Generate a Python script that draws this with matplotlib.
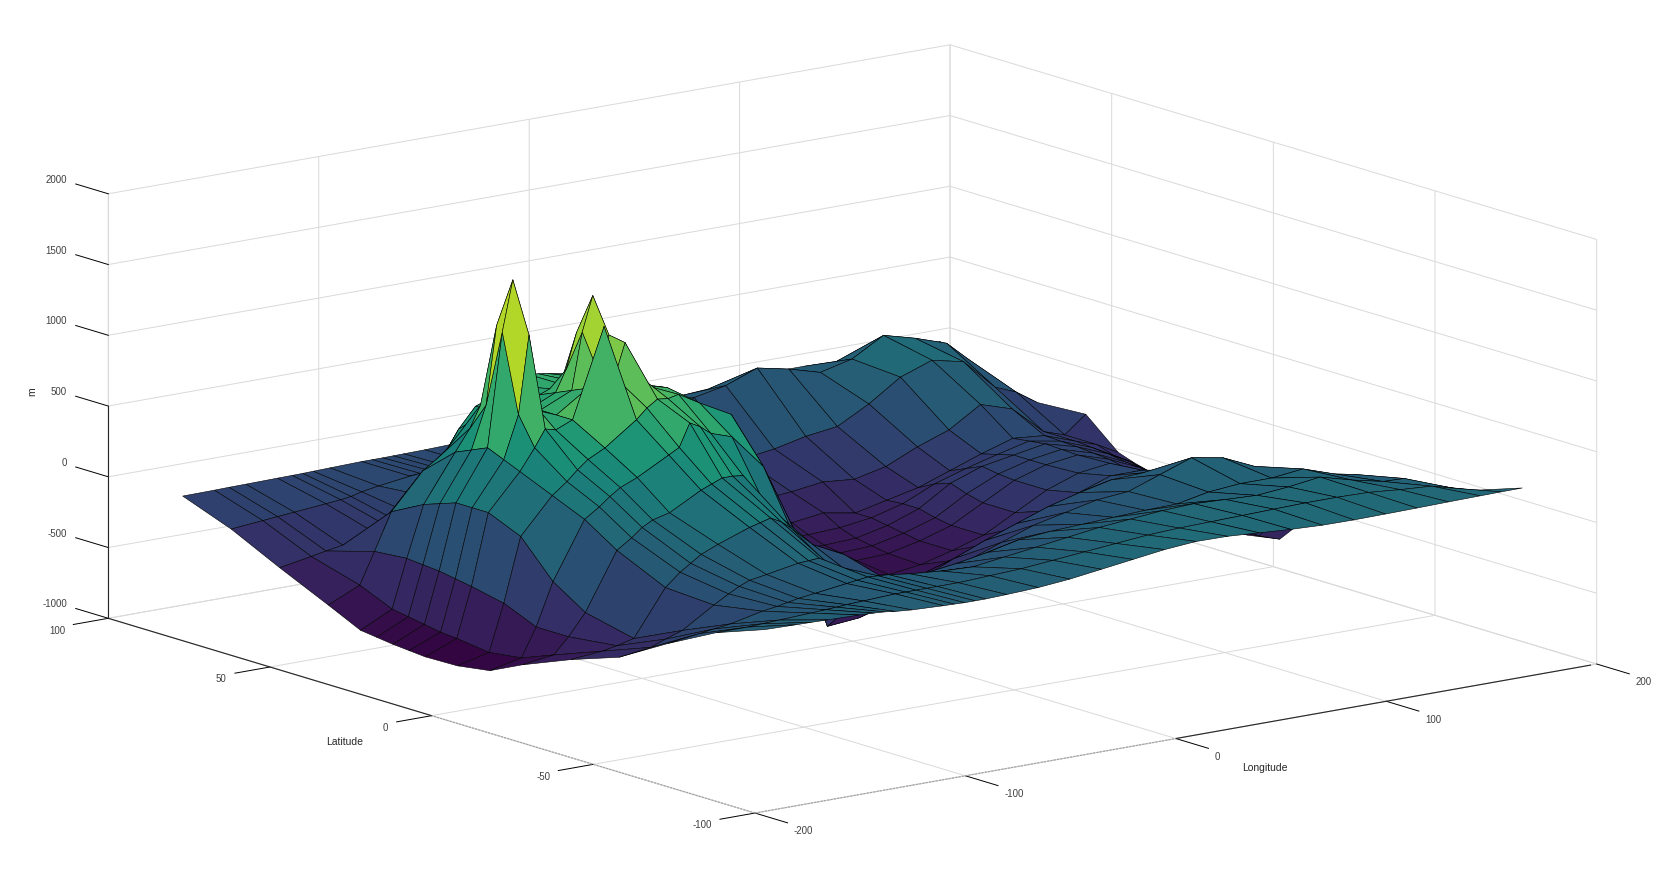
# Surface of m over longitude / latitude
import numpy as np
import matplotlib
matplotlib.use("Agg")
import matplotlib.pyplot as plt
from matplotlib.colors import ListedColormap
from mpl_toolkits.mplot3d import proj3d

plt.rcParams['font.family'] = ['Liberation Sans', 'DejaVu Sans']
plt.rcParams['axes.unicode_minus'] = False

lon = [-180, -165, -158, -150, -135, -128, -123, -118, -110, -95, -90, -85, -80, -75, -65, -50, -35, -20, -5, 10, 25, 40, 55, 70, 85, 100, 115, 130, 145, 160, 170, 180]
lat = [-90, -75, -60, -45, -30, -15, -5, 5, 15, 20, 25, 30, 35, 45, 60, 75, 90]

z_m90 = [175, 170, 168, 165, 160, 155, 150, 140, 130, 120, 118, 115, 115, 115, 120, 130, 150, 180, 210, 240, 258, 255, 240, 225, 215, 213, 215, 218, 222, 225, 227, 228]
z_m75 = [50, 50, 55, 60, 70, 75, 80, 85, 90, 100, 100, 100, 100, 100, 100, 110, 120, 140, 160, 180, 200, 210, 215, 220, 225, 230, 230, 225, 205, 190, 150, 108]
z_m60 = [-130, -100, -85, -70, -20, -5, 10, 25, 40, 70, 80, 90, 85, 80, 60, 40, 30, 60, 90, 120, 150, 170, 190, 200, 190, 180, 200, 230, 170, 120, 115, 47]
z_m45 = [-330, -300, -260, -220, -80, -20, 20, 50, 70, 110, 115, 120, 60, -40, -100, -150, -120, -90, -50, 0, 20, 30, 40, 50, 55, 100, 120, 120, 145, 70, 40, -50]
z_m30 = [-450, -430, -410, -380, -60, 30, 80, 130, 180, 260, 280, 300, 260, 200, 60, -50, -300, -420, -330, -240, -160, -80, -30, 20, 40, 120, 200, 160, 60, -100, -200, -280]
z_m15 = [-590, -560, -450, -300, 100, 170, 230, 270, 300, 420, 450, 480, 480, 470, 250, -50, -700, -680, -600, -480, -380, -290, -210, -130, -70, -20, -10, -30, -200, -500, -600, -650]
z_m05 = [-700, -650, -450, -150, 250, 320, 380, 430, 480, 600, 640, 800, 760, 700, 650, 400, -100, -650, -680, -600, -560, -500, -430, -350, -270, -180, -100, -100, -300, -500, -620, -690]
z_p05 = [-735, -680, -350, 100, 350, 430, 500, 560, 620, 780, 850, 900, 890, 907, 820, 700, 300, -300, -590, -640, -630, -600, -540, -470, -350, -230, -150, -120, -250, -400, -520, -620]
z_p15 = [-740, -650, -300, 200, 450, 600, 720, 700, 750, 1370, 1000, 1230, 1000, 900, 860, 650, 250, -200, -500, -620, -600, -590, -540, -470, -350, -230, -160, -130, -200, -300, -400, -500]
z_p20 = [-730, -640, -280, 200, 500, 800, 1350, 800, 750, 900, 1000, 1250, 900, 860, 840, 620, 230, -200, -480, -590, -580, -570, -520, -450, -320, -220, -160, -125, -190, -290, -380, -480]
z_p25 = [-720, -620, -260, 200, 550, 1350, 1705, 1300, 750, 850, 1250, 1494, 1250, 850, 830, 600, 200, -200, -450, -560, -560, -550, -500, -420, -280, -200, -160, -120, -180, -270, -350, -450]
z_p30 = [-705, -600, -250, 160, 500, 800, 1350, 800, 700, 800, 950, 1200, 900, 830, 810, 520, 150, -200, -420, -520, -520, -510, -480, -420, -320, -250, -190, -135, -175, -260, -340, -420]
z_p35 = [-690, -580, -240, 120, 450, 600, 750, 700, 650, 750, 780, 800, 810, 820, 790, 450, 100, -200, -400, -480, -470, -440, -480, -430, -380, -300, -220, -150, -170, -250, -300, -380]
z_p45 = [-580, -480, -260, 0, 250, 320, 380, 500, 640, 720, 730, 800, 790, 778, 750, 650, 100, -200, -320, -380, -380, -360, -330, -350, -300, -200, -120, 20, -50, -250, -300, -180]
z_p60 = [-420, -380, -360, -340, -290, -270, -250, -200, -100, 100, 115, 130, 125, 120, 110, 60, -20, -120, -200, -250, -250, -230, -200, -150, -120, 0, 150, 230, 180, -40, -100, -200]
z_p75 = [-250, -230, -220, -210, -190, -180, -170, -150, -130, -100, -95, -90, -90, -90, -90, -80, -80, -90, -100, -100, -90, 100, 145, 230, 183, 120, 175, 303, 243, 168, 32, -149]
z_p90 = [-120, -118, -116, -115, -112, -111, -110, -108, -105, -100, -100, -100, -99, -98, -96, -90, -80, -70, -60, -50, -45, -40, -35, -20, 0, 20, 20, 10, 0, 0, 10, 25]

x_ticks = [-200, -100, 0, 100, 200]
y_ticks = [-100, -50, 0, 50, 100]
z_ticks = [-1000, -500, 0, 500, 1000, 1500, 2000]

Z = np.array([z_m90, z_m75, z_m60, z_m45, z_m30, z_m15, z_m05, z_p05, z_p15, z_p20, z_p25, z_p30, z_p35, z_p45, z_p60, z_p75, z_p90], dtype=float)
X, Y = np.meshgrid(lon, lat)

fig = plt.figure(figsize=(16.71, 8.69), dpi=100)
ax = fig.add_axes([0, 0, 1, 1], projection='3d', proj_type='ortho')
ax.view_init(elev=13.35, azim=-127.48)
ax.set_box_aspect((1060.7, 1062.8, 436.3))
ax.set_xlim(-200, 200)
ax.set_ylim(-100, 100)
ax.set_zlim(-1000, 2000)

# black mesh in the original is so dense it darkens the low parts
cols = plt.cm.viridis(np.linspace(0, 1, 256))
cols[:, :3] *= np.linspace(0.72, 1, 256)[:, None]
ax.plot_surface(X, Y, Z, rstride=1, cstride=1, cmap=ListedColormap(cols), vmin=-750, vmax=1550,
                edgecolor='black', linewidth=0.4, shade=False, antialiased=True)

ax.set_xticks(x_ticks)
ax.set_yticks(y_ticks)
ax.set_zticks(z_ticks)
ax.tick_params(labelbottom=False, labelleft=False, labelsize=0)
ax.set_xticklabels([])
ax.set_yticklabels([])
ax.set_zticklabels([])
ax.zaxis._get_tickdir = lambda pos: 1
for axis, out in ((ax.xaxis, -0.63), (ax.yaxis, -0.52), (ax.zaxis, 0.63)):
    axis.set_pane_color((1, 1, 1, 0))
    axis.pane.set_edgecolor('#d9d9d9')
    axis._axinfo['grid'].update(color='#d9d9d9', linewidth=0.7)
    axis._axinfo['tick'].update(outward_factor=out, inward_factor=0, linewidth={True: 0.7, False: 0.7})
    axis.line.set_color('#d9d9d9')
    axis.line.set_linewidth(0.8)

# axis lines: dark only on part of each edge
ax.plot([0, 200], [-100, -100], [-1000, -1000], color='#262626', lw=0.8)
ax.plot([-200, 0], [-100, -100], [-1000, -1000], color='#a0a0a0', lw=0.8, ls=(0, (2, 1)))
ax.plot([-200, -200], [0, 100], [-1000, -1000], color='#262626', lw=0.8)
ax.plot([-200, -200], [-100, 0], [-1000, -1000], color='#a0a0a0', lw=0.8, ls=(0, (2, 1)))
ax.plot([-200, -200], [100, 100], [-1000, 500], color='#262626', lw=0.8)

# fit the box corners onto their spots in the reference
W, H = fig.canvas.get_width_height()
M = ax.get_proj()
xl, yl, _ = proj3d.proj_transform(-200, 100, -1000, M)
xr, yr, _ = proj3d.proj_transform(200, -100, -1000, M)
scale = (1596.7 - 108.3) / (xr - xl)
x0, x1 = ax.viewLim.intervalx
y0, y1 = ax.viewLim.intervaly
S = scale * (x1 - x0)
L = 108.3 - (xl - x0) * scale
B = H - 618.3 - (yl - y0) * scale
ax.set_position([L / W, B / H, S / W, S / H])


def tick_label(xs, ys, zs, txt, ha, dx=0, dy=0):
    # place a label where the 3D point lands on the page
    px, py, _ = proj3d.proj_transform(xs, ys, zs, M)
    fx = (L + (px - x0) * scale + dx) / W
    fy = (B + (py - y0) * scale + dy) / H
    fig.text(fx, fy, txt, fontsize=7, color='#404040', ha=ha, va='center')


for v in x_ticks:
    tick_label(v, -113, -1040, str(v), 'left', dx=-3)
for v in y_ticks:
    tick_label(-221, v, -1018, str(v), 'right', dx=1, dy=-2)
for v in z_ticks:
    tick_label(-200, 116.5, v - 15, str(v), 'right', dx=12)

fig.text(1187 * 1.0657 / W, 1 - 721 * 1.0657 / H, 'Longitude', fontsize=7.5, ha='center', va='center', color='#262626')
fig.text(323 * 1.0657 / W, 1 - 696 * 1.0657 / H, 'Latitude', fontsize=7.5, ha='center', va='center', color='#262626')
fig.text(30 * 1.0657 / W, 1 - 368 * 1.0657 / H, 'm', fontsize=7.5, rotation=90, ha='center', va='center', color='#262626')

fig.savefig('out.png', dpi=100)
